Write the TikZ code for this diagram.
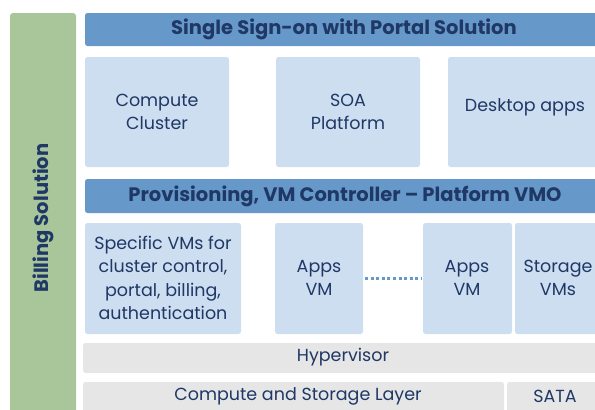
\documentclass[tikz,border=0pt]{standalone}
\usepackage{fontspec}
\setmainfont{Poppins}
\begin{document}
\begin{tikzpicture}[x=1pt,y=-1pt,
  bar/.style={fill=barblue,rounded corners=2.5pt,draw=none},
  lbox/.style={fill=boxblue,rounded corners=2.5pt,draw=none},
  gbox/.style={fill=boxgray,rounded corners=2.5pt,draw=none},
  bartext/.style={text=navy,font=\fontsize{19.5}{22}\selectfont\bfseries},
  boxtext/.style={text=navy,font=\fontsize{17.5}{23.5}\selectfont,align=center},
]
\definecolor{barblue}{HTML}{6699C9}
\definecolor{boxblue}{HTML}{CCDEEF}
\definecolor{boxgray}{HTML}{E6E6E6}
\definecolor{green1}{HTML}{A9C59A}
\definecolor{navy}{HTML}{1F3866}
\useasboundingbox (0,0) rectangle (595,410);
\clip (0,0) rectangle (595,410);
% green billing bar
\fill[green1,rounded corners=3pt] (10,13) rectangle (76,430);
\node[bartext,rotate=90] (billing) at (43,218) {Billing Solution};
% top bar
\fill[bar] (85,13) rectangle (610,46);
\node[bartext] (sso) at (344,29.5) {Single Sign-on with Portal Solution};
% row 1
\fill[lbox] (85,57) rectangle (229,167);
\node[boxtext] (cc) at (157,112) {Compute\\Cluster};
\fill[lbox] (276,57) rectangle (420,167);
\node[boxtext] (soa) at (348,112) {SOA\\Platform};
\fill[lbox] (448,57) rectangle (610,167);
\node[boxtext] (desk) at (525,107) {Desktop apps};
% provisioning bar
\fill[bar] (85,179) rectangle (610,213);
\node[bartext] (prov) at (345,196) {Provisioning, VM Controller -- Platform VMO};
% row 2
\fill[lbox] (85,223) rectangle (241,334);
\node[boxtext] (spec) at (163,278) {Specific VMs for\\cluster control,\\portal, billing,\\authentication};
\fill[lbox] (275,223) rectangle (363,334);
\node[boxtext] (app1) at (319,278) {Apps\\VM};
\fill[lbox] (423,223) rectangle (512,334);
\node[boxtext] (app2) at (467,278) {Apps\\VM};
\fill[lbox] (515,223) rectangle (610,334);
\node[boxtext] (stor) at (558,278) {Storage\\VMs};
\coordinate (d1) at (365,278);
\coordinate (d2) at (422,278);
\draw[barblue,line width=3pt,dash pattern=on 3pt off 2.6pt] (d1) -- (d2);
% hypervisor
\fill[gbox] (83,343) rectangle (610,373);
\node[boxtext] (hyp) at (343,357) {Hypervisor};
% compute and storage
\fill[gbox] (83,382) rectangle (504,430);
\node[boxtext] (csl) at (298,396) {Compute and Storage Layer};
\fill[gbox] (507,382) rectangle (610,430);
\node[boxtext] (sata) at (555,396) {SATA};
\end{tikzpicture}
\end{document}
